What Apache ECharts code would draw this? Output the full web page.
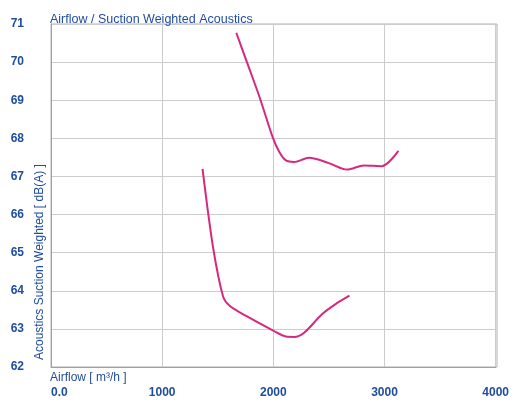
<!DOCTYPE html>
<html>
<head>
<meta charset="UTF-8">
<style>
    *{ margin:0; padding:0; }
    body{ background:#fff; }
    #main{ width:512px; height:402px; }
</style>
</head>
<body>
<div id="main"></div>
<script src="https://cdn.jsdelivr.net/npm/echarts@6/dist/echarts.min.js"></script>
<script>
    // upper curve (airflow m3/h, dB(A))
    var upperX = [1667, 1756, 1875, 1994, 2054, 2113, 2188, 2321, 2500, 2664, 2813, 2976, 3125];
    var upperY = [70.77, 70.05, 69.09, 68.03, 67.64, 67.42, 67.38, 67.49, 67.35, 67.18, 67.29, 67.27, 67.67];
    // lower curve
    var lowerX = [1363, 1458, 1548, 1607, 1756, 2003, 2113, 2188, 2277, 2440, 2560, 2685];
    var lowerY = [67.20, 65.14, 63.85, 63.61, 63.34, 62.95, 62.80, 62.79, 62.90, 63.39, 63.65, 63.87];

    var textBlue = '#1f4c9c';
    var lineColor = '#d6287f';

    function pairs(xs, ys){
        return xs.map(function(x, i){ return [x, ys[i]]; });
    }

    var myChart = echarts.init(document.getElementById('main'));
    var option = {
        backgroundColor: '#fff',
        animation: false,
        title: {
            text: 'Airflow / Suction Weighted Acoustics',
            left: 45,
            top: 8,
            textStyle: { color: textBlue, fontSize: 12.5, fontWeight: 'normal', fontFamily: 'Liberation Sans' }
        },
        grid: { left: 51, right: 15, top: 24, bottom: 35 },
        xAxis: {
            type: 'value',
            min: 0, max: 4000, interval: 1000,
            axisLine: { show: true, lineStyle: { color: '#a0a0a0' } },
            axisTick: { show: false },
            splitLine: { show: true, lineStyle: { color: '#cccccc', width: 1 } },
            axisLabel: {
                color: textBlue, fontSize: 12, fontWeight: 'bold', fontFamily: 'Liberation Sans', margin: 20,
                alignMinLabel: 'left',
                formatter: function(v){ return v === 0 ? '0.0' : String(v); }
            }
        },
        yAxis: {
            type: 'value',
            min: 62, max: 71, interval: 1,
            axisLine: { show: true, lineStyle: { color: '#a0a0a0' } },
            axisTick: { show: false },
            splitLine: { show: true, lineStyle: { color: '#cccccc', width: 1 } },
            axisLabel: { color: textBlue, fontSize: 12, fontWeight: 'bold', fontFamily: 'Liberation Sans', margin: 27 }
        },
        graphic: [
            { type: 'rect', shape: { x: 51, y: 24, width: 446, height: 343 }, style: { fill: 'none', stroke: '#b0b0b0', lineWidth: 1 }, silent: true },
            { type: 'text', left: 50, top: 372, style: { text: 'Airflow [ m³/h ]', fill: textBlue, font: '12px Liberation Sans' } },
            { type: 'text', x: 40, y: 360, rotation: Math.PI / 2,
              style: { text: 'Acoustics Suction Weighted [ dB(A) ]', fill: textBlue, font: '12px Liberation Sans', textAlign: 'left', textVerticalAlign: 'middle' } }
        ],
        series: [
            { type: 'line', data: pairs(upperX, upperY), smooth: 0.3, showSymbol: false, lineStyle: { color: lineColor, width: 2 } },
            { type: 'line', data: pairs(lowerX, lowerY), smooth: 0.3, showSymbol: false, lineStyle: { color: lineColor, width: 2 } }
        ]
    };
    myChart.setOption(option);
</script>
</body>
</html>
